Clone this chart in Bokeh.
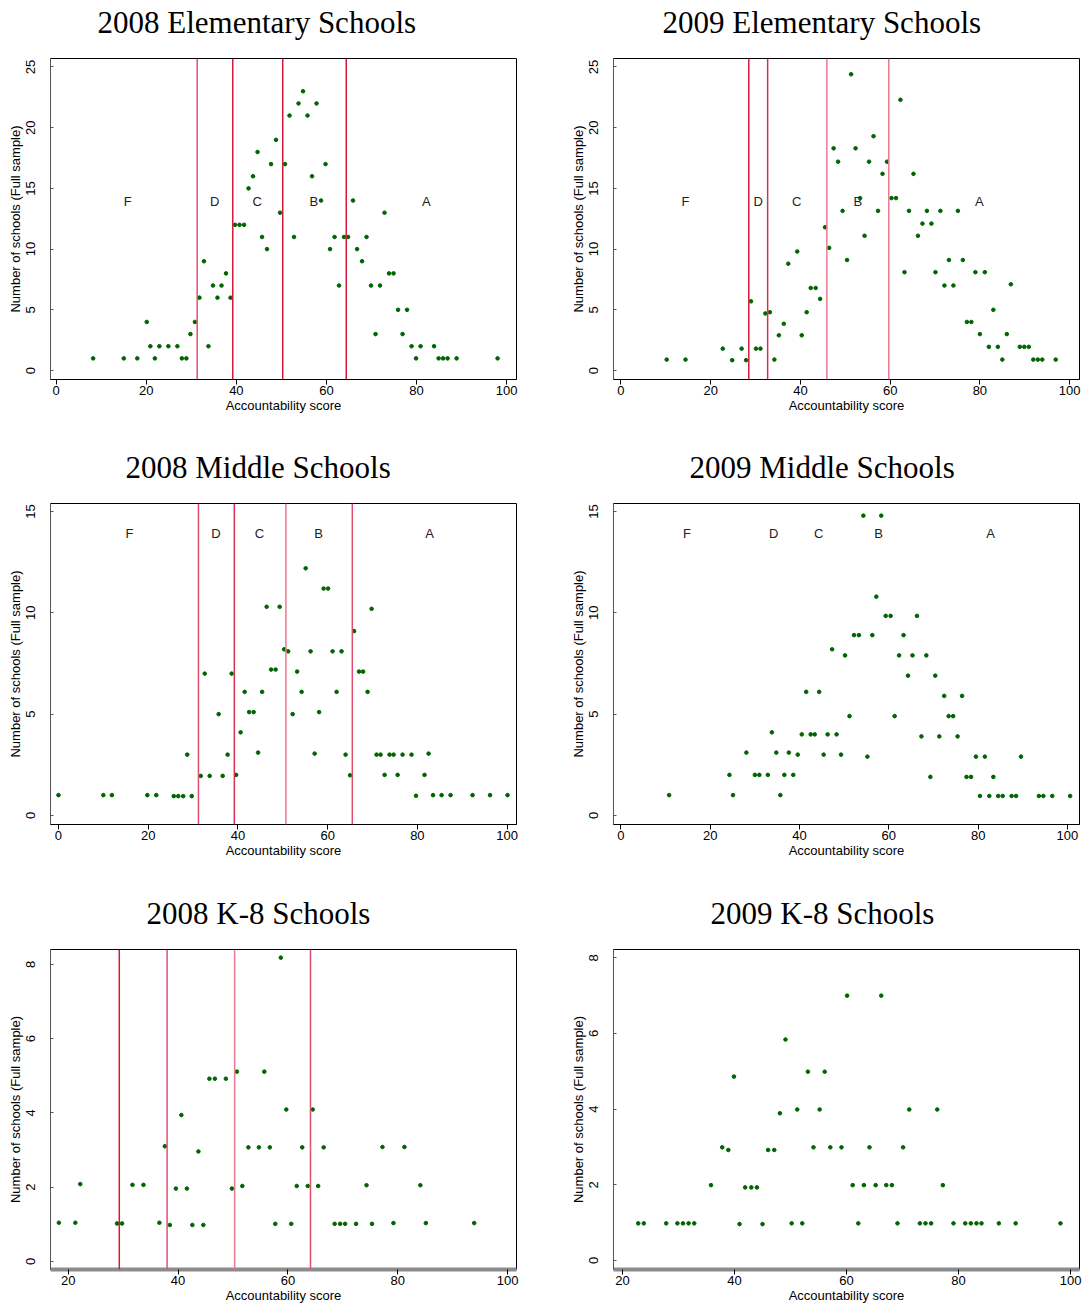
from bokeh.plotting import figure
from bokeh.layouts import gridplot
from bokeh.models import Span, LinearAxis, FixedTicker
from bokeh.core.properties import value
from bokeh.embed import file_html
from bokeh.resources import INLINE

grades = ["F", "D", "C", "B", "A"]
x_label = "Accountability score"
y_label = "Number of schools (Full sample)"

# ---- 2008 Elementary ----
elem08_x = [8.2, 15.0, 18.0, 20.1, 20.9, 21.9, 22.9, 24.9, 26.9, 27.9, 28.9, 29.8, 30.8, 31.8, 32.8, 33.8,
            34.8, 35.8, 36.7, 37.7, 38.7, 39.7, 40.7, 41.7, 42.7, 43.7, 44.7, 45.7, 46.8, 47.7, 48.8, 49.7,
            50.8, 51.8, 52.8, 53.8, 54.8, 55.8, 56.8, 57.8, 58.8, 59.8, 60.8, 61.8, 62.8, 63.9, 64.8, 65.9,
            66.8, 67.9, 68.9, 69.9, 70.9, 71.9, 72.9, 73.9, 74.9, 75.9, 76.9, 77.9, 78.9, 79.9, 80.9, 83.9,
            84.9, 85.9, 86.9, 88.9, 98.0]
elem08_y = [1, 1, 1, 4, 2, 1, 2, 2, 2, 1, 1, 3, 4, 6, 9, 2, 7, 6, 7, 8, 6, 12, 12, 12, 15, 16, 18, 11, 10,
            17, 19, 13, 17, 21, 11, 22, 23, 21, 16, 22, 14, 17, 10, 11, 7, 11, 11, 14, 10, 9, 11, 7, 3, 7,
            13, 8, 8, 5, 3, 5, 2, 1, 2, 2, 1, 1, 1, 1, 1]
elem08_cuts = [31.3, 39.2, 50.3, 64.4]
elem08_letter_x = [15.9, 35.2, 44.6, 57.2, 82.2]
elem08_letter_y = 13.9

# ---- 2009 Elementary ----
elem09_x = [10.2, 14.4, 22.7, 24.8, 26.9, 27.9, 29.0, 30.1, 31.1, 32.2, 33.2, 34.2, 35.2, 36.3, 37.3, 39.3,
            40.3, 41.4, 42.3, 43.4, 44.4, 45.5, 46.4, 47.4, 48.4, 49.4, 50.4, 51.3, 52.3, 53.3, 54.3, 55.3,
            56.3, 57.3, 58.3, 59.3, 60.3, 61.3, 62.3, 63.2, 64.2, 65.2, 66.2, 67.2, 68.2, 69.2, 70.1, 71.2,
            72.1, 73.1, 74.1, 75.1, 76.2, 77.1, 78.1, 79.0, 80.0, 81.1, 82.0, 83.0, 84.0, 85.0, 86.0, 86.9,
            88.9, 89.9, 90.9, 91.9, 92.9, 93.9, 96.9]
elem09_y = [0.9, 0.9, 1.8, 0.85, 1.8, 0.85, 5.7, 1.8, 1.8, 4.7, 4.8, 0.9, 2.9, 3.85, 8.8, 9.8,
            2.9, 4.8, 6.8, 6.8, 5.9, 11.8, 10.1, 18.3, 17.2, 13.15, 9.1, 24.4, 18.3, 14.2, 11.1, 17.2,
            19.3, 13.15, 16.2, 17.2, 14.2, 14.2, 22.3, 8.1, 13.15, 16.2, 11.1, 12.1, 13.15, 12.1, 8.1, 13.15,
            7.0, 9.1, 7.0, 13.15, 9.1, 4.0, 4.0, 8.1, 3.0, 8.1, 1.95, 5.0, 1.95, 0.9, 3.0, 7.1,
            1.95, 1.95, 1.95, 0.9, 0.9, 0.9, 0.9]
elem09_cuts = [28.5, 32.7, 45.9, 59.7]
elem09_letter_x = [14.4, 30.6, 39.2, 52.8, 79.9]
elem09_letter_y = 13.9

# ---- 2008 Middle ----
mid08_x = [0.0, 10.0, 11.9, 19.8, 21.8, 25.7, 26.7, 27.8, 28.7, 29.7, 31.7, 32.6, 33.7, 35.7, 36.6, 37.7,
           38.6, 39.6, 40.6, 41.5, 42.5, 43.5, 44.5, 45.4, 46.4, 47.4, 48.4, 49.3, 50.3, 51.2, 52.2, 53.2,
           54.2, 55.1, 56.2, 57.1, 58.1, 59.1, 60.1, 61.1, 62.0, 63.1, 64.0, 65.0, 65.9, 67.0, 67.9, 68.9,
           69.8, 70.9, 71.8, 72.7, 73.8, 74.7, 75.6, 76.7, 78.7, 79.7, 81.6, 82.5, 83.5, 85.4, 87.4, 92.3,
           96.2, 100.1]
mid08_y = [1.0, 1.0, 1.0, 1.0, 1.0, 0.95, 0.95, 0.95, 3.0, 0.95, 1.95, 7.0, 1.95, 5.0, 1.95, 3.0,
           7.0, 2.0, 4.1, 6.1, 5.1, 5.1, 3.1, 6.1, 10.3, 7.2, 7.2, 10.3, 8.2, 8.1, 5.0, 7.1,
           6.1, 12.2, 8.1, 3.05, 5.1, 11.2, 11.2, 8.1, 6.1, 8.1, 3.0, 1.98, 9.1, 7.1, 7.1, 6.1,
           10.2, 3.0, 3.0, 2.0, 3.0, 3.0, 2.0, 3.0, 3.0, 0.97, 2.0, 3.05, 1.0, 1.0, 1.0, 1.0,
           1.0, 1.0]
mid08_cuts = [31.2, 39.2, 50.7, 65.5]
mid08_letter_x = [15.8, 35.1, 44.8, 58.0, 82.7]
mid08_letter_y = 13.9

# ---- 2009 Middle ----
mid09_x = [10.8, 24.3, 25.1, 28.1, 30.0, 31.0, 32.9, 33.8, 34.8, 35.7, 36.6, 37.6, 38.6, 39.6, 40.5, 41.5,
           42.5, 43.4, 44.4, 45.4, 46.3, 47.3, 48.3, 49.3, 50.2, 51.2, 52.2, 53.3, 54.3, 55.2, 56.3, 57.2,
           58.3, 59.3, 60.4, 61.3, 62.3, 63.3, 64.3, 65.3, 66.3, 67.3, 68.4, 69.3, 70.4, 71.3, 72.4, 73.4,
           74.4, 75.4, 76.4, 77.4, 78.4, 79.5, 80.4, 81.5, 82.5, 83.4, 84.5, 85.5, 87.5, 88.5, 89.6, 93.6,
           94.6, 96.6, 100.6]
mid09_y = [1.0, 2.0, 1.0, 3.1, 2.0, 2.0, 2.0, 4.1, 3.1, 1.0, 2.0, 3.1, 2.0, 3.0, 4.0, 6.1,
           4.0, 4.0, 6.1, 3.0, 4.0, 8.2, 4.0, 3.0, 7.9, 4.9, 8.9, 8.9, 14.8, 2.9, 8.9, 10.8,
           14.8, 9.85, 9.85, 4.9, 7.9, 8.9, 6.9, 7.9, 9.85, 3.9, 7.9, 1.9, 6.9, 3.9, 5.9, 4.9,
           4.9, 3.9, 5.9, 1.9, 1.9, 2.9, 0.96, 2.9, 0.96, 1.9, 0.96, 0.96, 0.96, 0.96, 2.9, 0.96,
           0.96, 0.96, 0.96]
mid09_cuts = []
mid09_letter_x = [14.8, 34.2, 44.3, 57.7, 82.8]
mid09_letter_y = 13.9

# ---- 2008 K-8 ----
k808_x = [18.3, 21.3, 22.2, 28.9, 29.8, 31.7, 33.7, 36.6, 37.6, 38.5, 39.6, 40.6, 41.6, 42.6, 43.7, 44.6,
          45.7, 46.7, 48.7, 49.8, 50.7, 51.7, 52.8, 54.7, 55.7, 56.7, 57.7, 58.7, 59.7, 60.6, 61.6, 62.6,
          63.6, 64.5, 65.5, 66.5, 68.5, 69.5, 70.4, 72.4, 74.3, 75.3, 77.2, 79.2, 81.2, 84.1, 85.1, 93.9]
k808_y = [1.04, 1.04, 2.08, 1.02, 1.02, 2.06, 2.06, 1.04, 3.1, 0.98, 1.96, 3.94, 1.96, 0.98, 2.96, 0.98,
          4.92, 4.92, 4.92, 1.96, 5.11, 2.03, 3.07, 3.07, 5.11, 3.07, 1.01, 8.18, 4.09, 1.01, 2.03, 3.07,
          2.03, 4.09, 2.03, 3.07, 1.01, 1.01, 1.01, 1.01, 2.05, 1.01, 3.08, 1.03, 3.08, 2.05, 1.03, 1.03]
k808_cuts = [29.3, 38.0, 50.3, 64.1]

# ---- 2009 K-8 ----
k809_x = [22.8, 23.8, 27.8, 29.8, 30.8, 31.8, 32.8, 35.8, 37.8, 38.9, 39.9, 40.9, 41.9, 43.0, 44.0, 45.0,
          46.0, 47.1, 48.1, 49.1, 50.2, 51.2, 52.1, 53.1, 54.1, 55.2, 56.1, 57.1, 59.1, 60.1, 61.1, 62.1,
          63.1, 64.1, 65.2, 66.2, 67.1, 68.1, 69.1, 70.1, 71.2, 73.1, 74.1, 75.1, 76.2, 77.2, 79.1, 81.2,
          82.2, 83.2, 84.1, 87.2, 90.2, 98.2]
k809_y = [0.98, 0.98, 0.98, 0.98, 0.98, 0.98, 0.98, 1.99, 2.99, 2.92, 4.86, 0.96, 1.93, 1.93, 1.93, 0.96,
          2.92, 2.92, 3.89, 5.84, 0.98, 3.99, 0.98, 4.99, 2.99, 3.99, 4.99, 2.99, 2.99, 7.0, 1.99, 0.98,
          1.99, 2.99, 1.99, 7.0, 1.99, 1.99, 0.98, 2.99, 3.99, 0.98, 0.98, 0.98, 3.99, 1.99, 0.98, 0.98,
          0.98, 0.98, 0.98, 0.98, 0.98, 0.98]
k809_cuts = []

score_ticks_full = [0, 20, 40, 60, 80, 100]
score_ticks_k8 = [20, 40, 60, 80, 100]
count_ticks_elem = [0, 5, 10, 15, 20, 25]
count_ticks_mid = [0, 5, 10, 15]
count_ticks_k8 = [0, 2, 4, 6, 8]

SANS = "Liberation Sans"
SERIF = "Liberation Serif"
GREEN = "#006400"


def make_spacer(xr):
    # invisible axis used only to reserve room between the frame and the title
    mid = 0.5 * (xr[0] + xr[1])
    return LinearAxis(ticker=FixedTicker(ticks=[mid]), axis_line_color=None,
                      major_tick_out=15, major_tick_in=0, major_tick_line_color=None,
                      minor_tick_out=0, minor_tick_in=0, minor_tick_line_color=None,
                      major_label_standoff=0, major_label_text_font_size="1px",
                      major_label_text_alpha=0.0)


def panel(title, xs, ys, xr, yr, xticks, yticks, cuts, cut_colors, letters_x, letter_y,
          width, height, bl, br, bt, bb, title_off, band=False):
    p = figure(width=width, height=height, x_range=xr, y_range=yr,
               output_backend="svg", toolbar_location=None,
               min_border_left=bl, min_border_right=br, min_border_top=bt, min_border_bottom=bb)
    p.title.text = title
    p.title.text_font = SERIF
    p.title.text_font_size = "31px"
    p.title.text_font_style = "normal"
    p.title.text_color = "black"
    p.title.align = "left"
    p.title.vertical_align = "top"
    p.title.offset = title_off
    p.title.standoff = 4
    p.add_layout(make_spacer(xr), "above")

    p.grid.visible = False
    p.outline_line_color = "black"
    p.outline_line_width = 1
    p.outline_line_alpha = 1
    p.background_fill_color = "white"
    p.border_fill_color = "white"

    for c, col in zip(cuts, cut_colors):
        p.add_layout(Span(location=c, dimension="height", line_color=col, line_width=1.5))

    if letters_x:
        p.text(x=letters_x, y=[letter_y] * len(letters_x), text=grades,
               text_font=value(SANS), text_font_size="13px", text_align="center",
               text_baseline="middle", text_color="#222222")

    p.scatter(xs, ys, size=3.6, color=GREEN, line_color=GREEN)

    xa = p.below[0]
    xa.ticker = xticks
    xa.axis_label = x_label
    xa.axis_label_text_font = SANS
    xa.axis_label_text_font_size = "13px"
    xa.axis_label_text_font_style = "normal"
    xa.axis_label_text_color = "black"
    xa.axis_label_standoff = 0
    xa.major_label_text_font = SANS
    xa.major_label_text_font_size = "13px"
    xa.major_label_text_color = "black"
    xa.major_label_standoff = 1
    xa.major_tick_out = 5
    xa.major_tick_in = 0
    xa.minor_tick_line_color = None
    xa.major_tick_line_color = "black"
    if band:
        xa.axis_line_color = "#8c8c8c"
        xa.axis_line_width = 4
    else:
        xa.axis_line_color = "black"

    ya = p.left[0]
    ya.ticker = yticks
    ya.axis_label = y_label
    ya.axis_label_text_font = SANS
    ya.axis_label_text_font_size = "13px"
    ya.axis_label_text_font_style = "normal"
    ya.axis_label_text_color = "black"
    ya.axis_label_standoff = 1
    ya.major_label_text_font = SANS
    ya.major_label_text_font_size = "13px"
    ya.major_label_text_color = "black"
    ya.major_label_orientation = "vertical"
    ya.major_label_standoff = 15
    ya.major_tick_in = 3
    ya.major_tick_out = 0
    ya.major_tick_line_color = "#555555"
    ya.minor_tick_line_color = None
    ya.axis_line_color = "#555555"
    return p


LW, RW = 550, 534
p1 = panel("2008 Elementary Schools", elem08_x, elem08_y, (-1.27, 102.2), (-0.74, 25.7),
           score_ticks_full, count_ticks_elem, elem08_cuts,
           ["#e0506e", "#d41a3c", "#d41a3c", "#d41a3c"], elem08_letter_x, elem08_letter_y,
           LW, 445, 50, 34, 58, 66, 47)
p2 = panel("2009 Elementary Schools", elem09_x, elem09_y, (-1.65, 102.2), (-0.74, 25.7),
           score_ticks_full, count_ticks_elem, elem09_cuts,
           ["#d41a3c", "#d83050", "#e87a90", "#e87a90"], elem09_letter_x, elem09_letter_y,
           RW, 445, 63, 5, 58, 66, 49)
p3 = panel("2008 Middle Schools", mid08_x, mid08_y, (-1.78, 102.1), (-0.45, 15.4),
           score_ticks_full, count_ticks_mid, mid08_cuts,
           ["#e0506e", "#d83050", "#e87a90", "#e0506e"], mid08_letter_x, mid08_letter_y,
           LW, 446, 50, 34, 58, 67, 75)
p4 = panel("2009 Middle Schools", mid09_x, mid09_y, (-1.66, 102.7), (-0.45, 15.4),
           score_ticks_full, count_ticks_mid, mid09_cuts, [], mid09_letter_x, mid09_letter_y,
           RW, 446, 63, 5, 58, 67, 76)
p5 = panel("2008 K-8 Schools", k808_x, k808_y, (16.78, 101.6), (-0.22, 8.4),
           score_ticks_k8, count_ticks_k8, k808_cuts,
           ["#d41a3c", "#e0506e", "#e87a90", "#e0506e"], [], 0,
           LW, 414, 50, 34, 58, 35, 96, band=True)
p6 = panel("2009 K-8 Schools", k809_x, k809_y, (18.39, 101.6), (-0.24, 8.22),
           score_ticks_k8, count_ticks_k8, k809_cuts, [], [], 0,
           RW, 414, 63, 5, 58, 35, 97, band=True)

grid = gridplot([[p1, p2], [p3, p4], [p5, p6]], toolbar_location=None)

open("out.html", "w").write(file_html(grid, INLINE))
